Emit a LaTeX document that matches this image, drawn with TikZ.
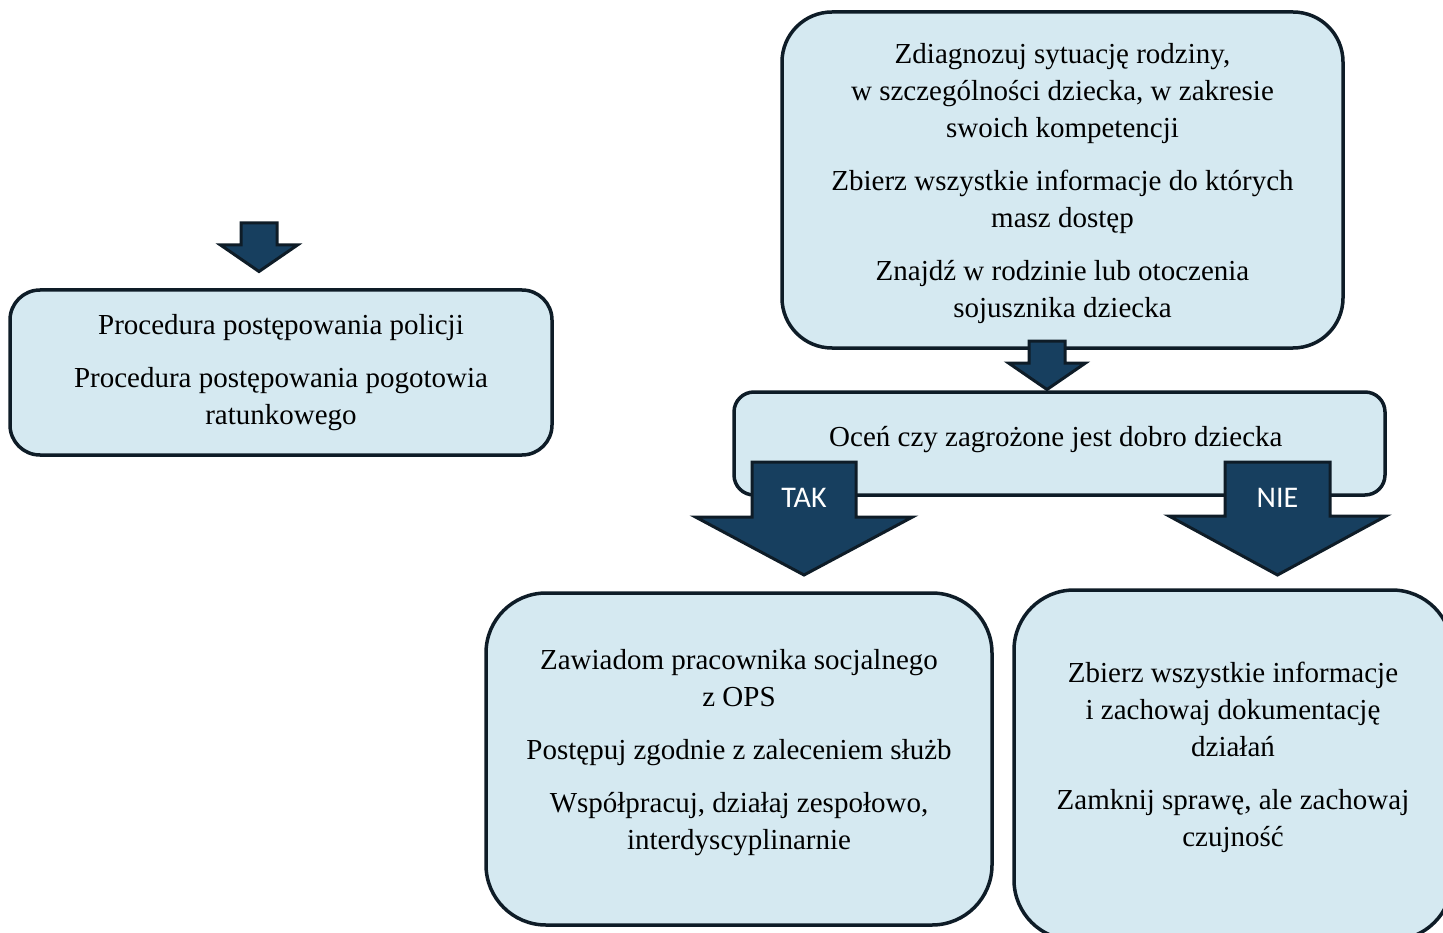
\documentclass[tikz,border=0pt]{standalone}
\usepackage{fontspec}
\setmainfont{Liberation Serif}
\newfontfamily\labelfont{Carlito}
\usetikzlibrary{positioning}
\definecolor{boxfill}{HTML}{D5E9F1}
\definecolor{boxline}{HTML}{0E1C27}
\definecolor{arrfill}{HTML}{173F5F}

\begin{document}
\begin{tikzpicture}[x=1pt, y=-1pt,
  box/.style={draw=boxline, fill=boxfill, line width=3.5pt, align=center, inner sep=0pt,
    font=\fontsize{29}{37}\selectfont},
  barrow/.style={draw=boxline, fill=arrfill, line width=3pt, line join=miter},
  lbl/.style={text=white, font=\labelfont\fontsize{30}{36}\selectfont}
]
  \useasboundingbox (0,0) rectangle (1443,933);
  \clip (0,0) rectangle (1443,933);

  % Top: diagnosis
  \node[box, rounded corners=50pt, minimum width=561pt, minimum height=336pt, text depth=-5pt] (diag) at (1062.5,180) {
    Zdiagnozuj sytuację rodziny,\\
    w szczególności dziecka, w zakresie\\
    swoich kompetencji\\[16pt]
    Zbierz wszystkie informacje do których\\
    masz dostęp\\[16pt]
    Znajdź w rodzinie lub otoczenia\\
    sojusznika dziecka
  };

  % Left: procedures
  \node[box, rounded corners=30pt, minimum width=542pt, minimum height=165pt] (proc) at (281,372.5) {
    Procedura postępowania policji\\[16pt]
    Procedura postępowania pogotowia\\
    ratunkowego
  };
  \coordinate (aL) at (259,223);
  \draw[barrow] (aL) ++(-18,0) -- ++(0,22) -- ++(-20.5,0) -- ++(38.5,26.5)
    -- ++(38.5,-26.5) -- ++(-20.5,0) -- ++(0,-22) -- cycle;

  % Middle: assessment
  \node[box, rounded corners=20pt, minimum width=651pt, minimum height=103pt, text depth=14pt] (ocen) at (1059.5,443.5) {
    Oceń czy zagrożone jest dobro dziecka
  };
  \coordinate (aM) at (1047,341);
  \draw[barrow] (aM) ++(-18,0) -- ++(0,22) -- ++(-20.5,0) -- ++(38.5,26.5)
    -- ++(38.5,-26.5) -- ++(-20.5,0) -- ++(0,-22) -- cycle;

  % Bottom: outcomes
  \node[box, rounded corners=60pt, minimum width=506pt, minimum height=332pt, text depth=20pt] (zaw) at (739,759) {
    Zawiadom pracownika socjalnego\\
    z OPS\\[16pt]
    Postępuj zgodnie z zaleceniem służb\\[16pt]
    Współpracuj, działaj zespołowo,\\
    interdyscyplinarnie
  };
  \node[box, rounded corners=60pt, minimum width=438pt, minimum height=350pt, text depth=22pt] (zb) at (1233,765) {
    Zbierz wszystkie informacje\\
    i zachowaj dokumentację\\
    działań\\[16pt]
    Zamknij sprawę, ale zachowaj\\
    czujność
  };

  % Decision arrows
  \coordinate (aTak) at (804,462);
  \draw[barrow] (aTak) ++(-52,0) -- ++(0,55) -- ++(-56.5,0) -- ++(108.5,58)
    -- ++(108.5,-58) -- ++(-56.5,0) -- ++(0,-55) -- cycle;
  \node[lbl] (tak) at (804,498) {TAK};

  \coordinate (aNie) at (1277.5,462);
  \draw[barrow] (aNie) ++(-52.5,0) -- ++(0,54) -- ++(-56,0) -- ++(108.5,59)
    -- ++(108.5,-59) -- ++(-56,0) -- ++(0,-54) -- cycle;
  \node[lbl] (nie) at (1277.5,498) {NIE};
\end{tikzpicture}
\end{document}
